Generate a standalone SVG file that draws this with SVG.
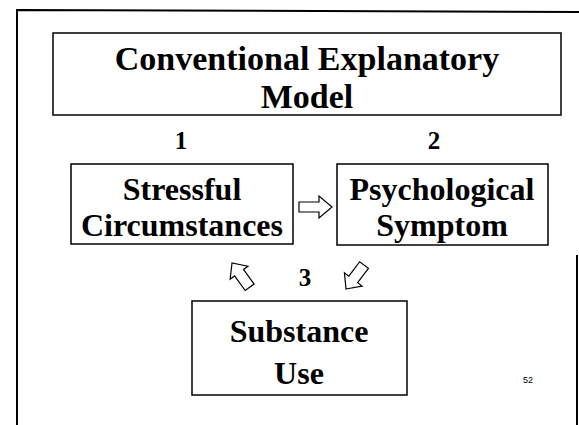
<svg xmlns="http://www.w3.org/2000/svg" width="579" height="425" viewBox="0 0 579 425">
<style>
.frame{fill:none;stroke:#000;stroke-width:2}
.box{fill:#fff;stroke:#000;stroke-width:1.5}
.t{font-family:"Liberation Serif","Times New Roman",serif;font-weight:bold;fill:#000;text-anchor:middle}
.arr{fill:#fff;stroke:#000;stroke-width:1.2;stroke-linejoin:miter}
</style>
<rect width="579" height="425" fill="#fff"/>
<path class="frame" d="M17,432 L17,10 L579,12 M577,255 L577,432"/>
<g id="title">
<rect class="box" x="53" y="33" width="508" height="82"/>
<text class="t" x="307" y="70" font-size="34">Conventional Explanatory</text>
<text class="t" x="307" y="108" font-size="34">Model</text>
</g>
<g id="label1"><text class="t" x="181" y="149" font-size="25">1</text></g>
<g id="label2"><text class="t" x="434" y="149" font-size="25">2</text></g>
<g id="label3"><text class="t" x="305" y="286" font-size="25">3</text></g>
<g id="node1">
<rect class="box" x="71" y="164" width="222" height="80"/>
<text class="t" x="182" y="200" font-size="32">Stressful</text>
<text class="t" x="182" y="236" font-size="32">Circumstances</text>
</g>
<g id="node2">
<rect class="box" x="337" y="164" width="211" height="81"/>
<text class="t" x="442" y="200" font-size="32">Psychological</text>
<text class="t" x="442" y="236" font-size="32">Symptom</text>
</g>
<g id="node3">
<rect class="box" x="192" y="301" width="215" height="94"/>
<text class="t" x="299" y="342" font-size="32">Substance</text>
<text class="t" x="299" y="384" font-size="32">Use</text>
</g>
<g id="connectors">
<path class="arr" d="M299,202 L319,202 L319,196 L332,207 L319,218 L319,212 L299,212 Z"/>
<path class="arr" transform="translate(232,263) rotate(-126)" d="M0,0 L-12,-11 L-12,-5.5 L-30,-5.5 L-30,5.5 L-12,5.5 L-12,11 Z"/>
<path class="arr" transform="translate(346,289) rotate(127)" d="M0,0 L-12,-11 L-12,-5.5 L-30,-5.5 L-30,5.5 L-12,5.5 L-12,11 Z"/>
</g>
<text x="528" y="383" font-family="'Liberation Sans',Arial,sans-serif" font-size="9" text-anchor="middle" fill="#000">52</text>
</svg>
